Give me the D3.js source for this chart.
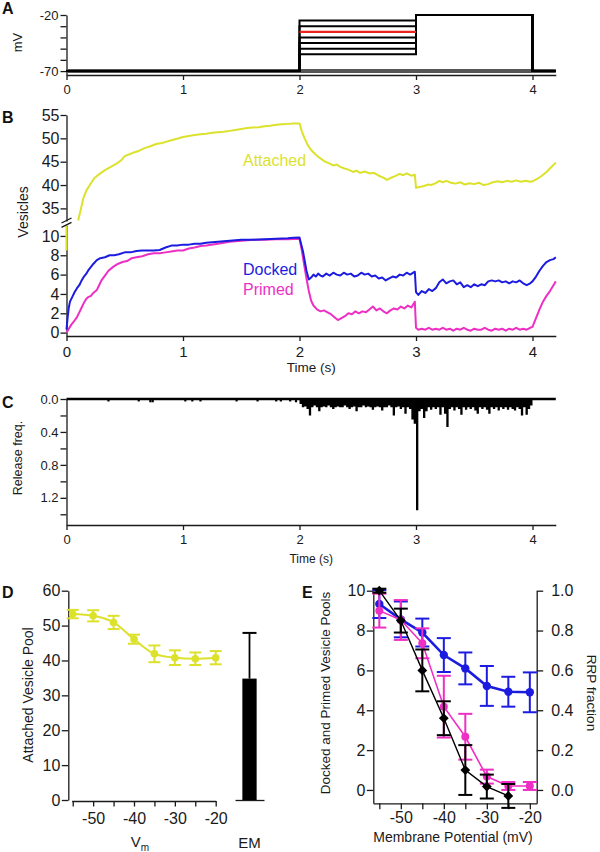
<!DOCTYPE html>
<html><head><meta charset="utf-8">
<script src="https://cdn.jsdelivr.net/npm/d3@7"></script>
<style>body{margin:0;background:#fff}svg{display:block}</style>
</head><body>
<svg id="c" width="600" height="852"></svg>
<script>
// ---------------- DATA ----------------
// Panel A: voltage protocol
const protocolTimes = [0, 2, 3, 4, 4.2];
const holdLevel = -70;
const testLevel = -20;
const stepLevels = [-25, -30, -35, -40, -45, -50, -55];
const highlightLevel = -35;
const aTicks = [-20, -30, -40, -50, -60, -70];
const aLabeled = [-20, -70];
const timeTicks = [0, 1, 2, 3, 4];

// Panel B: vesicle pools over time [t (s), vesicles]
const attached = [[0.10,32.4],[0.12,34.5],[0.145,37.2],[0.17,38.8],[0.2,40.0],[0.24,41.5],[0.29,42.5],[0.33,43.2],[0.38,43.9],[0.43,44.6],[0.47,45.3],[0.5,46.2],[0.54,46.6],[0.57,46.9],[0.62,47.3],[0.67,47.9],[0.72,48.3],[0.77,48.8],[0.82,49.0],[0.86,49.3],[0.9,49.6],[0.95,49.9],[1.0,50.3],[1.05,50.5],[1.1,50.7],[1.15,50.9],[1.2,51.0],[1.25,51.2],[1.3,51.3],[1.35,51.4],[1.4,51.6],[1.45,51.8],[1.5,52.0],[1.55,52.2],[1.6,52.3],[1.65,52.4],[1.7,52.6],[1.75,52.7],[1.8,52.9],[1.85,53.0],[1.9,53.1],[1.95,53.2],[2.0,53.2],[2.02,51.5],[2.04,50.2],[2.07,48.6],[2.1,47.5],[2.14,46.5],[2.18,45.7],[2.22,45.0],[2.26,44.6],[2.29,44.2],[2.32,44.4],[2.35,43.9],[2.38,43.6],[2.42,43.3],[2.46,42.8],[2.49,43.1],[2.52,42.6],[2.56,42.9],[2.6,42.5],[2.64,42.6],[2.68,42.0],[2.72,41.6],[2.75,41.1],[2.78,41.5],[2.82,41.9],[2.86,42.4],[2.89,42.1],[2.92,42.5],[2.96,42.0],[2.99,42.2],[3.0,39.4],[3.03,39.6],[3.07,39.8],[3.1,40.1],[3.13,40.0],[3.17,40.4],[3.2,40.9],[3.23,40.6],[3.26,40.9],[3.3,40.5],[3.34,40.3],[3.38,40.6],[3.42,40.1],[3.46,40.4],[3.5,40.2],[3.54,40.5],[3.58,40.0],[3.62,40.2],[3.66,40.6],[3.7,40.8],[3.74,40.6],[3.78,40.9],[3.82,40.7],[3.86,41.0],[3.9,40.7],[3.94,40.9],[3.98,40.7],[4.0,40.8],[4.04,41.3],[4.08,42.0],[4.12,42.8],[4.16,43.8],[4.2,44.8]];
const attachedStart = [[0,8.5],[0,11.1]];
const docked = [[0,0.3],[0.01,1.6],[0.02,2.6],[0.03,3.2],[0.05,3.7],[0.07,4.2],[0.09,4.6],[0.11,4.9],[0.13,5.4],[0.15,5.8],[0.17,6.1],[0.19,6.5],[0.21,6.8],[0.23,7.1],[0.26,7.5],[0.29,7.7],[0.33,7.8],[0.37,8.0],[0.41,8.0],[0.45,8.1],[0.5,8.3],[0.55,8.3],[0.6,8.45],[0.65,8.5],[0.7,8.5],[0.75,8.5],[0.8,8.55],[0.85,8.8],[0.9,9.0],[0.95,9.0],[1.0,9.1],[1.05,9.1],[1.1,9.2],[1.15,9.2],[1.2,9.3],[1.3,9.4],[1.4,9.5],[1.5,9.6],[1.6,9.6],[1.7,9.65],[1.8,9.7],[1.9,9.75],[1.95,9.8],[2.0,9.85],[2.03,8.4],[2.06,6.4],[2.08,5.5],[2.1,5.7],[2.12,6.0],[2.14,5.8],[2.16,6.1],[2.18,5.9],[2.2,5.8],[2.23,6.1],[2.26,5.9],[2.29,6.2],[2.32,6.0],[2.35,5.9],[2.38,6.2],[2.41,6.0],[2.44,6.1],[2.47,5.8],[2.5,5.9],[2.53,6.2],[2.56,6.0],[2.59,6.1],[2.62,5.8],[2.65,5.9],[2.68,5.6],[2.71,5.7],[2.74,5.4],[2.77,5.6],[2.8,5.8],[2.83,5.7],[2.86,6.0],[2.89,5.9],[2.92,6.2],[2.95,6.0],[2.99,6.3],[3.0,4.2],[3.02,3.9],[3.05,4.3],[3.08,4.1],[3.11,4.5],[3.14,4.3],[3.17,4.6],[3.2,5.2],[3.23,5.5],[3.26,5.1],[3.29,5.3],[3.32,5.4],[3.35,5.0],[3.38,5.2],[3.41,4.7],[3.44,4.9],[3.47,4.7],[3.5,5.0],[3.53,4.8],[3.56,5.0],[3.59,4.9],[3.62,5.3],[3.65,5.4],[3.68,5.3],[3.71,5.4],[3.74,5.2],[3.77,5.3],[3.8,5.1],[3.83,5.3],[3.86,5.2],[3.89,5.4],[3.92,5.1],[3.95,4.9],[3.98,5.1],[4.0,5.3],[4.03,5.8],[4.06,6.4],[4.09,6.9],[4.12,7.3],[4.15,7.5],[4.18,7.6],[4.2,7.8]];
const primed = [[0,0],[0.02,0.4],[0.04,0.8],[0.06,1.1],[0.09,1.6],[0.11,2.1],[0.13,2.6],[0.15,3.1],[0.17,3.5],[0.19,3.7],[0.21,3.8],[0.23,4.1],[0.26,4.4],[0.28,4.9],[0.3,5.4],[0.33,5.9],[0.36,6.4],[0.4,6.8],[0.44,7.1],[0.48,7.3],[0.52,7.4],[0.56,7.7],[0.6,7.8],[0.65,7.9],[0.7,8.1],[0.75,8.2],[0.8,8.2],[0.85,8.3],[0.9,8.4],[0.95,8.5],[1.0,8.5],[1.05,8.7],[1.1,8.8],[1.15,8.95],[1.2,9.0],[1.3,9.2],[1.4,9.4],[1.5,9.5],[1.6,9.6],[1.7,9.6],[1.8,9.65],[1.9,9.65],[2.0,9.7],[2.02,8.5],[2.04,7.0],[2.06,5.6],[2.08,4.3],[2.1,3.3],[2.12,2.8],[2.15,2.4],[2.18,2.2],[2.21,2.3],[2.24,2.1],[2.27,1.9],[2.3,1.6],[2.33,1.3],[2.36,1.5],[2.39,1.7],[2.42,2.0],[2.45,1.9],[2.48,2.2],[2.51,2.0],[2.54,2.2],[2.57,2.1],[2.6,2.4],[2.63,2.7],[2.66,2.3],[2.69,2.5],[2.72,2.2],[2.75,2.0],[2.78,2.3],[2.81,2.5],[2.84,2.4],[2.87,2.7],[2.9,2.5],[2.93,2.8],[2.96,2.6],[2.99,3.2],[3.0,0.5],[3.02,0.3],[3.05,0.4],[3.08,0.3],[3.11,0.5],[3.14,0.3],[3.17,0.4],[3.2,0.3],[3.23,0.5],[3.26,0.3],[3.29,0.4],[3.32,0.2],[3.35,0.4],[3.38,0.3],[3.41,0.5],[3.44,0.3],[3.47,0.2],[3.5,0.4],[3.53,0.3],[3.56,0.3],[3.59,0.5],[3.62,0.3],[3.65,0.2],[3.68,0.4],[3.71,0.3],[3.74,0.4],[3.77,0.2],[3.8,0.4],[3.83,0.3],[3.86,0.5],[3.89,0.3],[3.92,0.4],[3.95,0.3],[3.98,0.5],[4.0,0.6],[4.03,1.5],[4.06,2.4],[4.09,3.2],[4.12,3.8],[4.15,4.3],[4.18,4.9],[4.2,5.3]];
const bUpperTicks = [35, 40, 45, 50, 55];
const bLowerTicks = [0, 2, 4, 6, 8, 10];

// Panel C: release frequency
const releaseSparse = [[0.36,0.03],[0.62,0.03],[0.72,0.04],[0.74,0.04],[1.02,0.03],[1.08,0.03],[1.15,0.03],[1.46,0.03],[1.64,0.03],[1.8,0.03],[1.84,0.03],[1.92,0.03],[1.97,0.04]];
const releaseDense = [[2.00,0.06],[2.02,0.10],[2.04,0.09],[2.06,0.12],[2.08,0.20],[2.10,0.10],[2.12,0.08],[2.14,0.10],[2.16,0.15],[2.18,0.10],[2.20,0.09],[2.22,0.10],[2.24,0.08],[2.26,0.10],[2.28,0.12],[2.30,0.10],[2.32,0.09],[2.34,0.10],[2.36,0.10],[2.38,0.08],[2.40,0.10],[2.42,0.12],[2.44,0.10],[2.46,0.09],[2.48,0.15],[2.50,0.10],[2.52,0.10],[2.54,0.08],[2.56,0.10],[2.58,0.09],[2.60,0.10],[2.62,0.13],[2.64,0.10],[2.66,0.09],[2.68,0.10],[2.70,0.14],[2.72,0.10],[2.74,0.10],[2.76,0.08],[2.78,0.10],[2.80,0.20],[2.82,0.10],[2.84,0.09],[2.86,0.12],[2.88,0.10],[2.90,0.18],[2.92,0.10],[2.94,0.12],[2.96,0.25],[2.98,0.30],[3.00,1.35],[3.02,0.15],[3.04,0.12],[3.06,0.23],[3.08,0.15],[3.10,0.10],[3.12,0.13],[3.14,0.10],[3.16,0.12],[3.18,0.10],[3.20,0.19],[3.22,0.10],[3.24,0.18],[3.26,0.34],[3.28,0.12],[3.30,0.10],[3.32,0.14],[3.34,0.10],[3.36,0.12],[3.38,0.19],[3.40,0.10],[3.42,0.13],[3.44,0.10],[3.46,0.12],[3.48,0.10],[3.50,0.14],[3.52,0.18],[3.54,0.10],[3.56,0.12],[3.58,0.10],[3.60,0.13],[3.62,0.18],[3.64,0.10],[3.66,0.12],[3.68,0.10],[3.70,0.14],[3.72,0.10],[3.74,0.12],[3.76,0.10],[3.78,0.13],[3.80,0.10],[3.82,0.12],[3.84,0.14],[3.86,0.10],[3.88,0.12],[3.90,0.20],[3.92,0.10],[3.94,0.19],[3.96,0.12],[3.98,0.08],[4.00,0]];
const cTicks = [0, 0.2, 0.4, 0.6, 0.8, 1.0, 1.2, 1.4];
const cLabeled = [0, 0.4, 0.8, 1.2];

// Panel D
const vmD = [-55, -50, -45, -40, -35, -30, -25, -20];
const attachedPool = [53.3, 52.8, 50.9, 46.1, 41.9, 40.8, 40.5, 40.8];
const attachedPoolErr = [1.2, 1.6, 1.9, 1.3, 2.4, 2.1, 1.8, 1.9];
const emCategories = ["EM"];
const emValues = [34.8];
const emErr = [13.1];
const vmTicks = [-55, -50, -45, -40, -35, -30, -25, -20];
const dTicks = [0, 10, 20, 30, 40, 50, 60];

// Panel E
const vmE = [-55, -50, -45, -40, -35, -30, -25, -20];
const dockedPool = [9.33, 8.56, 7.9, 6.77, 6.1, 5.22, 4.93, 4.9];
const dockedPoolErr = [0.7, 0.9, 0.7, 0.85, 0.8, 1.0, 0.75, 1.0];
const primedPool = [9.0, 8.53, 7.36, 4.18, 2.67, 0.67, 0.2, 0.2];
const primedPoolErr = [0.85, 1.0, 0.75, 1.55, 1.15, 0.35, 0.2, 0.2];
const rrpVm = [-55, -50, -45, -40, -35, -30, -25];
const rrpFraction = [1.0, 0.85, 0.6, 0.36, 0.10, 0.017, -0.03];
const rrpErr = [0.01, 0.06, 0.105, 0.085, 0.125, 0.06, 0.06];
const eLeftTicks = [0, 2, 4, 6, 8, 10];
const eRightTicks = [0, 0.2, 0.4, 0.6, 0.8, 1.0];

// ---------------- STYLE ----------------
const FONT = '"Liberation Sans", Arial, Helvetica, sans-serif';
const INK = "#1a1a1a";
const YELLOW = "#dce22c";
const BLUE = "#1c1ce0";
const MAGENTA = "#ee2fc4";
const RED = "#e8251e";

const svg = d3.select("#c").attr("font-family", FONT);

function styleAxis(g, fs) {
  g.attr("font-family", FONT).attr("font-size", fs);
  g.selectAll(".domain").attr("stroke", INK).attr("stroke-width", 1.3);
  g.selectAll(".tick line").attr("stroke", INK).attr("stroke-width", 1.3);
  g.selectAll(".tick text").attr("fill", INK);
  return g;
}
function panelLetter(t, x, y) {
  svg.append("text").attr("x", x).attr("y", y).attr("font-size", 16).attr("font-weight", "bold").attr("fill", "#111").text(t);
}
function vLabel(t, x, y, fs, rot) {
  svg.append("text").attr("transform", `translate(${x},${y}) rotate(${rot || -90})`)
    .attr("text-anchor", "middle").attr("dominant-baseline", "central").attr("font-size", fs).attr("fill", INK).text(t);
}

// shared time scale
const xT = d3.scaleLinear().domain([0, 4.2]).range([66.5, 555.8]);

// ---------------- PANEL A ----------------
const yA = d3.scaleLinear().domain([-73.5, -20]).range([75, 15]);
panelLetter("A", 2, 14);
styleAxis(svg.append("g").attr("transform", `translate(${xT.range()[0]},0)`)
  .call(d3.axisLeft(yA).tickValues(aTicks).tickSize(6).tickSizeOuter(0).tickPadding(2)
    .tickFormat(d => aLabeled.includes(d) ? String(d) : "")), 13);
styleAxis(svg.append("g").attr("transform", `translate(0,${yA.range()[0]})`)
  .call(d3.axisBottom(xT).tickValues(timeTicks).tickSize(5).tickSizeOuter(0).tickPadding(5).tickFormat(d => String(d))), 13);
vLabel("mV", 17.5, 42.5, 13);

const protoLine = d3.line().x(d => xT(d[0])).y(d => yA(d[1])).curve(d3.curveStepAfter);
function protocol(level) {
  const lv = [holdLevel, level, testLevel, holdLevel, holdLevel];
  return protocolTimes.map((t, i) => [t, lv[i]]);
}
svg.append("path").datum([[0, holdLevel], [4.2, holdLevel]]).attr("d", protoLine)
  .attr("fill", "none").attr("stroke", "#555").attr("stroke-width", 4);
stepLevels.filter(l => l !== highlightLevel).forEach(l => {
  svg.append("path").datum(protocol(l)).attr("d", protoLine)
    .attr("fill", "none").attr("stroke", "#000").attr("stroke-width", 2);
});
svg.append("path").datum([[2, highlightLevel], [3, highlightLevel]]).attr("d", protoLine)
  .attr("fill", "none").attr("stroke", RED).attr("stroke-width", 2.2);

// ---------------- PANEL B ----------------
const yUp = d3.scaleLinear().domain([32.3, 55]).range([221, 115]);
const yLow = d3.scaleLinear().domain([-0.35, 11.1]).range([336, 225.3]);
panelLetter("B", 2, 123);
styleAxis(svg.append("g").attr("transform", `translate(${xT.range()[0]},0)`)
  .call(d3.axisLeft(yUp).tickValues(bUpperTicks).tickSize(6).tickSizeOuter(0).tickPadding(1).tickFormat(d => String(d))), 16);
styleAxis(svg.append("g").attr("transform", `translate(${xT.range()[0]},0)`)
  .call(d3.axisLeft(yLow).tickValues(bLowerTicks).tickSize(6).tickSizeOuter(0).tickPadding(1).tickFormat(d => String(d))), 16);
styleAxis(svg.append("g").attr("transform", `translate(0,${yLow.range()[0]})`)
  .call(d3.axisBottom(xT).tickValues(timeTicks).tickSize(5).tickSizeOuter(0).tickPadding(5).tickFormat(d => String(d))), 15);
svg.append("text").attr("x", (xT.range()[0] + xT.range()[1]) / 2).attr("y", 372).attr("text-anchor", "middle")
  .attr("font-size", 13.5).attr("fill", INK).text("Time (s)");
vLabel("Vesicles", 23, 212, 14);

const lineUp = d3.line().x(d => xT(d[0])).y(d => yUp(d[1]));
const lineLow = d3.line().x(d => xT(d[0])).y(d => yLow(d[1]));
svg.append("path").datum(attachedStart).attr("d", lineLow).attr("fill", "none").attr("stroke", YELLOW).attr("stroke-width", 2.2);
svg.append("path").datum(attached).attr("d", lineUp).attr("fill", "none").attr("stroke", YELLOW).attr("stroke-width", 2).attr("stroke-linejoin", "round");
svg.append("path").datum(primed).attr("d", lineLow).attr("fill", "none").attr("stroke", MAGENTA).attr("stroke-width", 2).attr("stroke-linejoin", "round");
svg.append("path").datum(docked).attr("d", lineLow).attr("fill", "none").attr("stroke", BLUE).attr("stroke-width", 2).attr("stroke-linejoin", "round");

// axis break marks
{
  const bx = xT.range()[0], yb1 = yUp.range()[0], yb2 = yLow.range()[1];
  [yb1, yb2].forEach(yy => {
    svg.append("line").attr("x1", bx - 5).attr("y1", yy + 2).attr("x2", bx + 5).attr("y2", yy - 3)
      .attr("stroke", INK).attr("stroke-width", 1.3);
  });
}
svg.append("text").attr("x", 243).attr("y", 166).attr("font-size", 16).attr("fill", YELLOW).text("Attached");
svg.append("text").attr("x", 243).attr("y", 275).attr("font-size", 16).attr("fill", BLUE).text("Docked");
svg.append("text").attr("x", 243).attr("y", 295).attr("font-size", 16).attr("fill", MAGENTA).text("Primed");

// ---------------- PANEL C ----------------
const yC = d3.scaleLinear().domain([0, 1.53]).range([399, 525]);
panelLetter("C", 2, 408);
styleAxis(svg.append("g").attr("transform", `translate(${xT.range()[0]},0)`)
  .call(d3.axisLeft(yC).tickValues(cTicks).tickSize(6).tickSizeOuter(0).tickPadding(2)
    .tickFormat(d => cLabeled.some(v => Math.abs(v - d) < 1e-9) ? d3.format(".1f")(d) : "")), 13);
styleAxis(svg.append("g").attr("transform", `translate(0,${yC.range()[1]})`)
  .call(d3.axisBottom(xT).tickValues(timeTicks).tickSize(5).tickSizeOuter(0).tickPadding(5).tickFormat(d => String(d))), 13);
svg.append("text").attr("x", (xT.range()[0] + xT.range()[1]) / 2).attr("y", 563).attr("text-anchor", "middle")
  .attr("font-size", 12).attr("fill", INK).text("Time (s)");
vLabel("Release freq.", 18, 458, 12.5);

svg.selectAll("rect.spk").data(releaseSparse).join("rect").attr("class", "spk")
  .attr("x", d => xT(d[0]) - 1.1).attr("width", 2.2).attr("y", yC(0)).attr("height", d => yC(d[1]) - yC(0)).attr("fill", "#000");
svg.append("path").datum(releaseDense)
  .attr("d", d3.area().x(d => xT(d[0])).y0(yC(0)).y1(d => yC(d[1])).curve(d3.curveStepAfter))
  .attr("fill", "#000");
svg.append("path").datum([[0, 0], [4.2, 0]])
  .attr("d", d3.line().x(d => xT(d[0])).y(d => yC(d[1])))
  .attr("stroke", "#000").attr("stroke-width", 2.5);

// ---------------- PANEL D ----------------
const xD = d3.scaleLinear().domain([-55.25, -20]).range([71.7, 215.7]);
const yD = d3.scaleLinear().domain([0, 60]).range([800, 590.7]);
const xEM = d3.scaleBand().domain(emCategories).range([235, 264]).padding(0.34);
panelLetter("D", 2, 598);
styleAxis(svg.append("g").attr("transform", `translate(68.3,0)`)
  .call(d3.axisLeft(yD).tickValues(dTicks).tickSize(6.5).tickSizeOuter(0).tickPadding(1.5).tickFormat(d => String(d))), 16);
styleAxis(svg.append("g").attr("transform", `translate(0,801)`)
  .call(d3.axisBottom(xD).tickValues(vmTicks).tickSize(5.5).tickSizeOuter(0).tickPadding(6)
    .tickFormat(d => d % 10 === 0 ? String(d) : "")), 16);
styleAxis(svg.append("g").attr("transform", `translate(0,800)`)
  .call(d3.axisBottom(xEM).tickSize(0).tickSizeOuter(0).tickPadding(37)), 15);
vLabel("Attached Vesicle Pool", 28, 695, 14);
{
  const t = svg.append("text").attr("x", 140).attr("y", 847).attr("text-anchor", "middle").attr("font-size", 15).attr("fill", INK);
  t.append("tspan").text("V");
  t.append("tspan").attr("font-size", 10).attr("dy", 4).text("m");
}
const dPts = vmD.map((v, i) => ({ v, y: attachedPool[i], e: attachedPoolErr[i] }));
svg.append("path").datum(dPts).attr("d", d3.line().x(d => xD(d.v)).y(d => yD(d.y)).curve(d3.curveMonotoneX))
  .attr("fill", "none").attr("stroke", YELLOW).attr("stroke-width", 2);
function errBars(data, xs, ys, color, cap, sw) {
  const g = svg.append("g").attr("stroke", color).attr("stroke-width", sw).attr("fill", "none");
  data.forEach(d => {
    const x = xs(d.v), y1 = ys(d.y - d.e), y2 = ys(d.y + d.e);
    g.append("line").attr("x1", x).attr("x2", x).attr("y1", y1).attr("y2", y2);
    g.append("line").attr("x1", x - cap).attr("x2", x + cap).attr("y1", y1).attr("y2", y1);
    g.append("line").attr("x1", x - cap).attr("x2", x + cap).attr("y1", y2).attr("y2", y2);
  });
}
errBars(dPts, xD, yD, YELLOW, 6, 2);
svg.selectAll("circle.dp").data(dPts).join("circle").attr("class", "dp")
  .attr("cx", d => xD(d.v)).attr("cy", d => yD(d.y)).attr("r", 3.8).attr("fill", YELLOW);
// EM bar
emCategories.forEach((c, i) => {
  const x0 = xEM(c), w = xEM.bandwidth(), cx = x0 + w / 2;
  svg.append("line").attr("x1", cx).attr("x2", cx).attr("y1", yD(emValues[i])).attr("y2", yD(emValues[i] + emErr[i]))
    .attr("stroke", "#000").attr("stroke-width", 1.8);
  svg.append("line").attr("x1", cx - 7).attr("x2", cx + 7).attr("y1", yD(emValues[i] + emErr[i])).attr("y2", yD(emValues[i] + emErr[i]))
    .attr("stroke", "#000").attr("stroke-width", 2);
  svg.append("rect").attr("x", x0).attr("width", w).attr("y", yD(emValues[i])).attr("height", yD(0) - yD(emValues[i])).attr("fill", "#000");
});

// ---------------- PANEL E ----------------
const xE = d3.scaleLinear().domain([-56.4, -18.4]).range([373.3, 536.7]);
const yEL = d3.scaleLinear().domain([-0.67, 10]).range([803.3, 590.7]);
const yER = d3.scaleLinear().domain([-0.067, 1.0]).range([803.3, 590.7]);
panelLetter("E", 302, 598);
styleAxis(svg.append("g").attr("transform", `translate(${xE.range()[0]},0)`)
  .call(d3.axisLeft(yEL).tickValues(eLeftTicks).tickSize(6.5).tickSizeOuter(0).tickPadding(1.5).tickFormat(d => String(d))), 16);
styleAxis(svg.append("g").attr("transform", `translate(${xE.range()[1]},0)`)
  .call(d3.axisRight(yER).tickValues(eRightTicks).tickSize(6.5).tickSizeOuter(0).tickPadding(8).tickFormat(d3.format(".1f"))), 16);
styleAxis(svg.append("g").attr("transform", `translate(0,${yEL.range()[0]})`)
  .call(d3.axisBottom(xE).tickValues(vmTicks).tickSize(6).tickSizeOuter(0).tickPadding(2.5)
    .tickFormat(d => d % 10 === 0 ? String(d) : "")), 16);
svg.append("text").attr("x", 453).attr("y", 842).attr("text-anchor", "middle").attr("font-size", 14).attr("fill", INK).text("Membrane Potential (mV)");
vLabel("Docked and Primed Vesicle Pools", 325, 693, 13.5);
vLabel("RRP fraction", 591.5, 693, 13.5, 90);

const dkPts = vmE.map((v, i) => ({ v, y: dockedPool[i], e: dockedPoolErr[i] }));
const prPts = vmE.map((v, i) => ({ v, y: primedPool[i], e: primedPoolErr[i] }));
const rrPts = rrpVm.map((v, i) => ({ v, y: rrpFraction[i], e: rrpErr[i] }));

svg.append("path").datum(dkPts).attr("d", d3.line().x(d => xE(d.v)).y(d => yEL(d.y)))
  .attr("fill", "none").attr("stroke", BLUE).attr("stroke-width", 2.6);
errBars(dkPts, xE, yEL, BLUE, 7, 2);
svg.selectAll("circle.dk").data(dkPts).join("circle").attr("class", "dk")
  .attr("cx", d => xE(d.v)).attr("cy", d => yEL(d.y)).attr("r", 4.2).attr("fill", BLUE);

svg.append("path").datum(prPts).attr("d", d3.line().x(d => xE(d.v)).y(d => yEL(d.y)))
  .attr("fill", "none").attr("stroke", MAGENTA).attr("stroke-width", 1.6);
errBars(prPts, xE, yEL, MAGENTA, 7, 2);
svg.selectAll("circle.pr").data(prPts).join("circle").attr("class", "pr")
  .attr("cx", d => xE(d.v)).attr("cy", d => yEL(d.y)).attr("r", 4).attr("fill", MAGENTA);

svg.append("path").datum(rrPts).attr("d", d3.line().x(d => xE(d.v)).y(d => yER(d.y)))
  .attr("fill", "none").attr("stroke", "#000").attr("stroke-width", 1.4);
errBars(rrPts, xE, yER, "#000", 7, 2);
svg.selectAll("path.rr").data(rrPts).join("path").attr("class", "rr")
  .attr("transform", d => `translate(${xE(d.v)},${yER(d.y)}) rotate(45)`)
  .attr("d", d3.symbol().type(d3.symbolSquare).size(48)).attr("fill", "#000");
</script>
</body></html>
